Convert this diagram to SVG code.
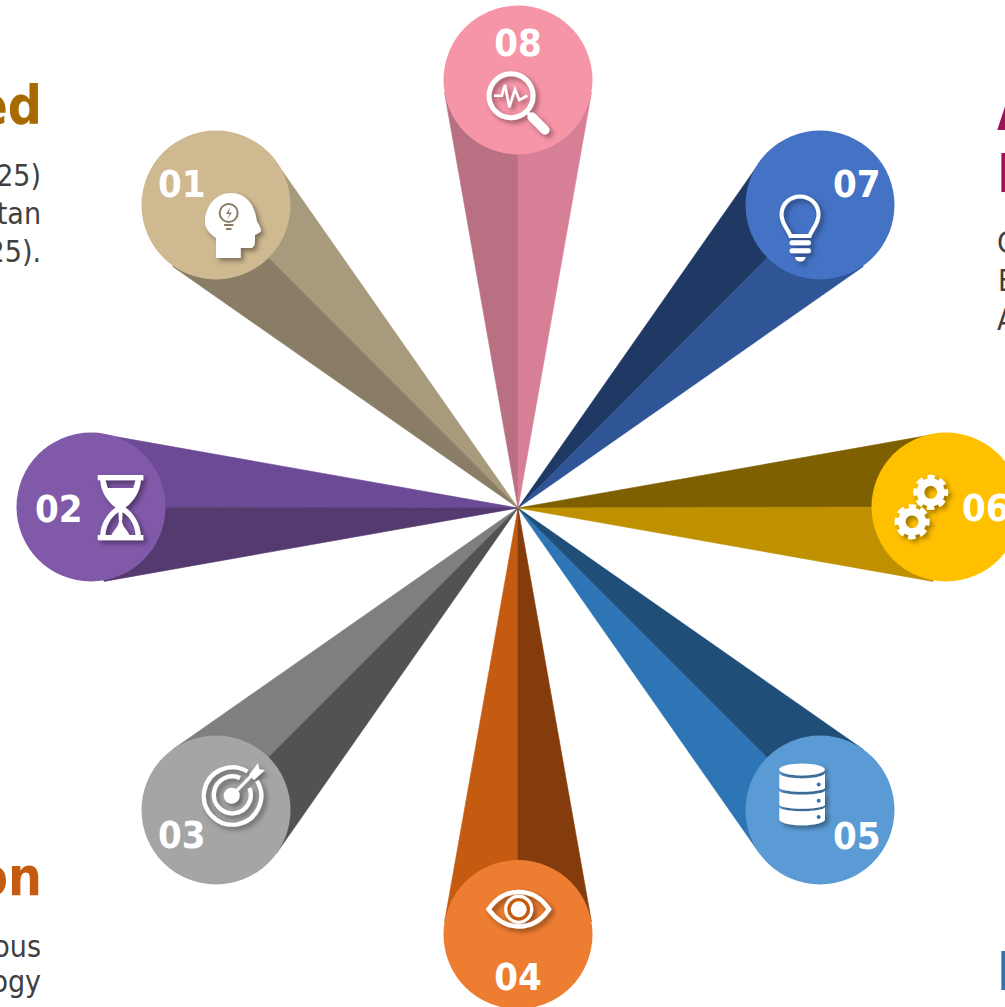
<svg xmlns="http://www.w3.org/2000/svg" xmlns:xlink="http://www.w3.org/1999/xlink" width="1005" height="1007" viewBox="0 0 1005 1007">
<style>
.num{font-family:"DejaVu Sans Condensed","DejaVu Sans",sans-serif;font-weight:700;font-size:38px;fill:#fff}
.mid{text-anchor:middle}
.h{font-family:"DejaVu Sans Condensed","DejaVu Sans",sans-serif;font-weight:700;font-size:53px}
.b{font-family:"DejaVu Sans Condensed","DejaVu Sans",sans-serif;font-size:30px;fill:#404040}
.e{text-anchor:end}
.ic{filter:url(#sh)}
.w{fill:#fff}
.s{fill:none;stroke:#fff}
#connectors polygon{stroke-width:.6;stroke-linejoin:round}
</style>
<defs>
<filter id="sh" x="-30%" y="-30%" width="170%" height="170%"><feDropShadow dx="3" dy="3" stdDeviation="2.5" flood-color="#000" flood-opacity="0.4"/></filter>
<g id="gear"><circle r="10.250" fill="none" stroke="#fff" stroke-width="7.500"/><circle r="15" fill="none" stroke="#fff" stroke-width="5" stroke-dasharray="7 4.78" stroke-dashoffset="3.500"/></g>
</defs>
<rect width="1005" height="1007" fill="#fff"/>

<g id="captions">
<text class="h e" x="42" y="124" fill="#A66A00">ed</text>
<text class="b e" x="41" y="186">25)</text>
<text class="b e" x="41" y="224">tan</text>
<text class="b e" x="41" y="262">25).</text>
<text class="h e" x="42" y="895" fill="#C55A11">on</text>
<text class="b e" x="41" y="957">ous</text>
<text class="b e" x="41" y="992">ogy</text>
<text class="h" x="997" y="130" fill="#9B1458">A</text>
<text class="h" x="997" y="192" fill="#9B1458">I</text>
<text class="b" x="997" y="253">C</text>
<text class="b" x="998" y="291">E</text>
<text class="b" x="997" y="330">A</text>
<text class="h" x="997" y="990" fill="#2E75B6">I</text>
</g>

<g id="connectors">
<polygon points="518,508 276.5,162.7 216,205" fill="#A89A7C" stroke="#A89A7C"/>
<polygon points="518,508 172.7,266.5 216,205" fill="#8A7D65" stroke="#8A7D65"/>
<polygon points="518,508 104,434.6 91,507" fill="#6D4A96" stroke="#6D4A96"/>
<polygon points="518,508 104,581.4 91,507" fill="#553A70" stroke="#553A70"/>
<polygon points="518,508 172.7,749.5 216,810" fill="#7F7F7F" stroke="#7F7F7F"/>
<polygon points="518,508 276.5,853.3 216,810" fill="#525252" stroke="#525252"/>
<polygon points="518,508 444.6,921.5 518,934.5" fill="#C55A11" stroke="#C55A11"/>
<polygon points="518,508 591.4,921.5 518,934.5" fill="#843C0C" stroke="#843C0C"/>
<polygon points="518,508 759.5,853.3 820,810" fill="#2E75B6" stroke="#2E75B6"/>
<polygon points="518,508 863.3,749.5 820,810" fill="#1F4E79" stroke="#1F4E79"/>
<polygon points="518,508 933,434.6 946,507" fill="#7F6000" stroke="#7F6000"/>
<polygon points="518,508 933,581.4 946,507" fill="#BF9000" stroke="#BF9000"/>
<polygon points="518,508 759.5,162.7 820,205" fill="#1F3864" stroke="#1F3864"/>
<polygon points="518,508 863.3,266.5 820,205" fill="#2F5597" stroke="#2F5597"/>
<polygon points="518,508 444.6,93 518,80" fill="#B97082" stroke="#B97082"/>
<polygon points="518,508 591.4,93 518,80" fill="#D67F96" stroke="#D67F96"/>
</g>

<g id="node-01">
<circle cx="216" cy="205" r="74.5" fill="#CFB991"/>
<text class="num" x="158" y="197">01</text>
<g class="ic">
<path class="w" d="M216 258H240.7V248H251.7Q255 246 255 241V235L261 231.500Q261.500 229 256.700 221C255 205 246 193 231 193C216 193 205 206 205 222C205 228 209 233 216 238Z"/>
<circle cx="228.700" cy="213" r="9" fill="none" stroke="#8A7D65" stroke-width="2"/>
<path d="M230.500 207L226 214H229.500L227 219.500L232 212.500H228.800Z" fill="#8A7D65"/>
<path d="M224 225H233.500M226 229H231.500" stroke="#8A7D65" stroke-width="1.800" fill="none"/>
</g>
</g>

<g id="node-02">
<circle cx="91" cy="507" r="74.5" fill="#8059A9"/>
<text class="num" x="35" y="522">02</text>
<g class="ic">
<path class="w" fill-rule="evenodd" d="M97.700 475H143.300V480.300H140.800C140 492 134 501 125.500 507.500C134 514 140 523 140.800 535H143.300V540.300H97.700V535H100.200C101 523 107 514 115.500 507.500C107 501 101 492 100.200 480.300H97.700ZM105.500 480.300L107.700 488H133.300L135.500 480.300ZM118.500 512C111 517 106 525 105.500 535H111.500C114 530 118 527 119 522ZM122.500 512C130 517 135 525 135.500 535H129.500C127 530 123 527 122 522Z"/>
</g>
</g>

<g id="node-03">
<circle cx="216" cy="810" r="74.5" fill="#A5A5A5"/>
<text class="num" x="158" y="848">03</text>
<g class="ic">
<path class="s" stroke-width="4.200" d="M247.500 771.500A28.700 28.700 0 1 0 257 781"/>
<path class="s" stroke-width="4.200" d="M240 778A18.500 18.500 0 1 0 249.500 788"/>
<circle cx="231.700" cy="795.700" r="8" class="w"/>
<path class="s" stroke-width="3" d="M231.700 795.700L253 774"/>
<path class="w" d="M249 775L258 763L259.500 769.500L265 770L254 780Z"/>
</g>
</g>

<g id="node-04">
<circle cx="518" cy="934.500" r="74.500" fill="#ED7D31"/>
<text class="num mid" x="518" y="990">04</text>
<g class="ic">
<path class="s" stroke-width="4.500" d="M488.500 909.300C497 897 507 891.900 518.700 891.900C530.500 891.900 541 897 549 909.300C541 921 530.500 926.500 518.700 926.500C507 926.500 497 921 488.500 909.300Z"/>
<circle cx="518.700" cy="909.300" r="13" fill="#C55A11" stroke="#fff" stroke-width="3.200"/>
<circle cx="518.700" cy="909.300" r="8" class="w"/>
</g>
</g>

<g id="node-05">
<circle cx="820" cy="810" r="74.500" fill="#5B9BD5"/>
<text class="num" x="833" y="849">05</text>
<g class="ic">
<ellipse cx="802" cy="769.500" rx="22.800" ry="6" class="w"/>
<path class="w" d="M779.300 773.500C784 780 820 780 825 773.500V788C820 793 784 793 779.300 788Z"/>
<path class="w" d="M779.300 791C784 796 820 796 825 791V805C820 810 784 810 779.300 805Z"/>
<path class="w" d="M779.300 807.500C784 812.500 820 812.500 825 807.500V820C820 827 784 827 779.300 820Z"/>
<circle cx="818.700" cy="784.500" r="2" fill="#2E75B6"/>
<circle cx="818.700" cy="800.700" r="2" fill="#2E75B6"/>
<circle cx="818.700" cy="817" r="2" fill="#2E75B6"/>
</g>
</g>

<g id="node-06">
<circle cx="946" cy="507" r="74.500" fill="#FFC000"/>
<text class="num" x="962" y="521">06</text>
<g class="ic">
<use href="#gear" xlink:href="#gear" transform="translate(930.700 492.300)"/>
<use href="#gear" xlink:href="#gear" transform="translate(912 521.700)"/>
</g>
</g>

<g id="node-07">
<circle cx="820" cy="205" r="74.500" fill="#4472C4"/>
<text class="num" x="833" y="197">07</text>
<g class="ic">
<path class="s" stroke-width="4" d="M790.500 236C788 229 781.500 224 781.500 214.500C781.500 204 790 196.500 800 196.500C810 196.500 818.500 204 818.500 214.500C818.500 224 812 229 809.500 236Z"/>
<path class="s" stroke-width="5" stroke-linecap="round" d="M792 242.700H808.500M792 250.700H808.500"/>
<path class="w" d="M795 257H805.500C805 263 795.500 263 795 257Z"/>
</g>
</g>

<g id="node-08">
<circle cx="518" cy="80" r="74.500" fill="#F795A8"/>
<text class="num mid" x="518" y="56">08</text>
<g class="ic">
<circle cx="511" cy="95.700" r="22" class="s" stroke-width="5"/>
<path class="s" stroke-width="2.500" d="M494 95.700H501.700L505 85L509.300 107.300L515 89.300L519.300 100L527.300 95.700"/>
<path class="s" stroke-width="3.500" d="M527 112L531 116"/>
<path class="s" stroke-width="9" stroke-linecap="round" d="M532 117L545 130"/>
</g>
</g>
</svg>
